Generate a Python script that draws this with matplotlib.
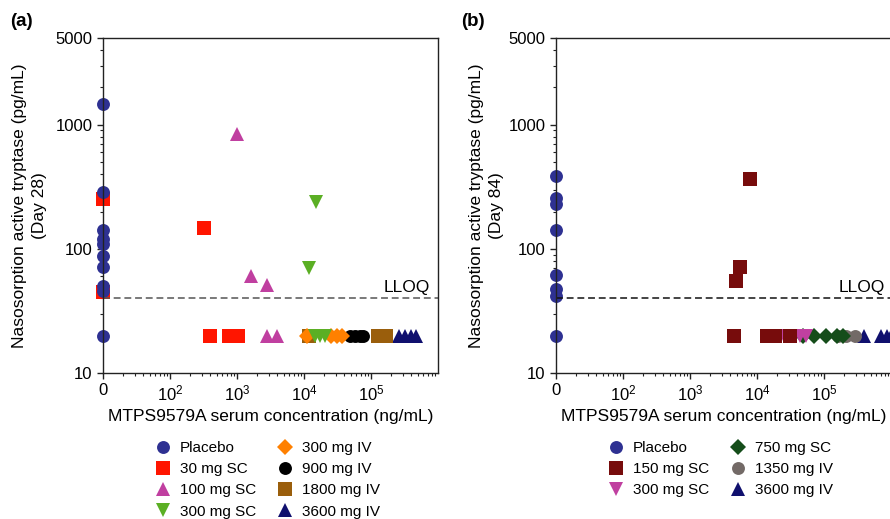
import matplotlib
matplotlib.use("Agg")
import matplotlib.pyplot as plt
import numpy as np
from matplotlib.lines import Line2D
from matplotlib.ticker import LogLocator, NullFormatter, FixedLocator, FixedFormatter

plt.rcParams['font.family'] = ['Liberation Sans', 'DejaVu Sans']
plt.rcParams['mathtext.fontset'] = 'custom'
plt.rcParams['mathtext.rm'] = 'Liberation Sans'
plt.rcParams['mathtext.it'] = 'Liberation Sans:italic'
plt.rcParams['mathtext.bf'] = 'Liberation Sans:bold'

# ---------------- data ----------------
LLOQ = 40
X_TICKS = [10, 1e2, 1e3, 1e4, 1e5]
X_TICK_LABELS = ['0', r'$10^{2}$', r'$10^{3}$', r'$10^{4}$', r'$10^{5}$']
Y_TICKS = [10, 100, 1000, 5000]
Y_TICK_LABELS = ['10', '100', '1000', '5000']

# Panel (a) Day 28
a_placebo_x = [0, 0, 0, 0, 0, 0, 0, 0, 0, 0]
a_placebo_y = [1480, 285, 143, 120, 110, 88, 72, 50, 46, 20]
a_sc30_x = [0, 0, 320, 395, 760, 1035]
a_sc30_y = [250, 45, 147, 20, 20, 20]
a_sc100_x = [990, 1600, 2830, 2770, 3980]
a_sc100_y = [850, 60, 51, 20, 20]
a_sc300_x = [15100, 11800, 14600, 17300, 20600]
a_sc300_y = [237, 70, 20, 20, 20]
a_iv300_x = [11100, 25300, 31100, 36900]
a_iv300_y = [20, 20, 20, 20]
a_iv900_x = [48600, 57700, 68500, 76000]
a_iv900_y = [20, 20, 20, 20]
a_iv1800_x = [11900, 127000, 167000]
a_iv1800_y = [20, 20, 20]
a_iv3600_x = [262000, 321000, 395000, 470000]
a_iv3600_y = [20, 20, 20, 20]

# Panel (b) Day 84
b_placebo_x = [0, 0, 0, 0, 0, 0, 0, 0]
b_placebo_y = [386, 257, 230, 142, 62, 47.5, 42, 20]
b_sc150_x = [7870, 5570, 4860, 4540, 14100, 18600, 31100]
b_sc150_y = [366, 72, 55, 20, 20, 20, 20]
b_sc300_x = [22800, 43900, 53900]
b_sc300_y = [20, 20, 20]
b_sc750_x = [48600, 71000, 107000, 156000, 192000]
b_sc750_y = [20, 20, 20, 20, 20]
b_iv1350_x = [162000, 213000, 290000]
b_iv1350_y = [20, 20, 20]
b_iv3600_x = [395000, 710000, 872000, 1000000]
b_iv3600_y = [20, 20, 20, 20]

# ---------------- styles ----------------
BLUE = '#2E3192'
groups_a = [
    ('Placebo',   a_placebo_x, a_placebo_y, BLUE,      'o', 9.3),
    ('30 mg SC',  a_sc30_x,    a_sc30_y,    '#FF1500', 's', 10),
    ('100 mg SC', a_sc100_x,   a_sc100_y,   '#C03FA0', '^', 9.4),
    ('300 mg SC', a_sc300_x,   a_sc300_y,   '#5BAF24', 'v', 9.4),
    ('300 mg IV', a_iv300_x,   a_iv300_y,   '#FF8000', 'D', 8),
    ('900 mg IV', a_iv900_x,   a_iv900_y,   '#000000', 'o', 9.3),
    ('1800 mg IV', a_iv1800_x, a_iv1800_y,  '#9A5E0C', 's', 10),
    ('3600 mg IV', a_iv3600_x, a_iv3600_y,  '#10106E', '^', 9.4),
]
groups_b = [
    ('Placebo',    b_placebo_x, b_placebo_y, BLUE,      'o', 9.3),
    ('150 mg SC',  b_sc150_x,   b_sc150_y,   '#770C0C', 's', 10),
    ('300 mg SC',  b_sc300_x,   b_sc300_y,   '#C040A0', 'v', 9.4),
    ('750 mg SC',  b_sc750_x,   b_sc750_y,   '#154D1A', 'D', 8),
    ('1350 mg IV', b_iv1350_x,  b_iv1350_y,  '#736A67', 'o', 9.3),
    ('3600 mg IV', b_iv3600_x,  b_iv3600_y,  '#10106E', '^', 9.4),
]

W, H = 890, 519
fig = plt.figure(figsize=(W / 100, H / 100), dpi=100)


def fx(px):
    return px / W


def fy(py):
    return 1 - py / H


X_FLOOR = 10  # zero concentration is shown at the left edge of the log axis


def setup(ax, groups, dash_color, lloq_dx, legend_x):
    for label, x, y, c, m, ms in reversed(groups):
        ax.plot(np.clip(np.asarray(x, float), X_FLOOR, None), y, ls='none',
                marker=m, color=c, ms=ms, mew=0, clip_on=False)
    ax.set_xscale('log')
    ax.set_yscale('log')
    ax.set_xlim(10, 1e6)
    ax.set_ylim(10, 5000)
    ax.xaxis.set_major_locator(FixedLocator(X_TICKS))
    ax.xaxis.set_major_formatter(FixedFormatter(X_TICK_LABELS))
    ax.xaxis.set_minor_locator(LogLocator(base=10, subs=np.arange(2, 10), numticks=20))
    ax.xaxis.set_minor_formatter(NullFormatter())
    ax.yaxis.set_major_locator(FixedLocator(Y_TICKS))
    ax.yaxis.set_major_formatter(FixedFormatter(Y_TICK_LABELS))
    ax.yaxis.set_minor_locator(LogLocator(base=10, subs=np.arange(2, 10), numticks=20))
    ax.yaxis.set_minor_formatter(NullFormatter())
    ax.tick_params(which='major', direction='out', length=4.5, width=1, labelsize=12,
                   color='#222222', pad=3)
    ax.tick_params(which='minor', direction='out', length=2.5, width=0.8, color='#222222')
    for s in ax.spines.values():
        s.set_linewidth(1.0)
        s.set_color('#222222')
    ax.axhline(LLOQ, color=dash_color, lw=1.1, ls=(0, (4.5, 2.5)))
    ax.annotate('LLOQ', xy=(1, LLOQ), xycoords=('axes fraction', 'data'),
                xytext=(lloq_dx, 4.3), textcoords='offset points',
                ha='right', va='baseline', fontsize=12.5)
    handles = [Line2D([], [], ls='none', marker=m, color=c, ms=ms, mew=0)
               for (_, _, _, c, m, ms) in groups]
    labels = [g[0] for g in groups]
    fig.legend(handles, labels, ncol=2, loc='upper left',
               bbox_to_anchor=(fx(legend_x), fy(441)), frameon=False,
               fontsize=11, handlelength=1.0, handletextpad=0.6,
               columnspacing=1.4, labelspacing=0.47, borderpad=0,
               borderaxespad=0)


ax1 = fig.add_axes([fx(103), fy(373), fx(335), 335 / H])
ax2 = fig.add_axes([fx(556), fy(373), fx(335), 335 / H])

setup(ax1, groups_a, '#555555', -5.5, 155.4)
setup(ax2, groups_b, '#111111', -4.5, 608.4)

XLABEL = 'MTPS9579A serum concentration (ng/mL)'
fig.text(fx(270.5), fy(416), XLABEL, ha='center', va='center', fontsize=12.5)
fig.text(fx(723.5), fy(416), XLABEL, ha='center', va='center', fontsize=12.5)

fig.text(fx(29.5), fy(206), 'Nasosorption active tryptase (pg/mL)\n(Day 28)',
         rotation=90, ha='center', va='center', multialignment='center',
         fontsize=12.5, linespacing=1.48)
fig.text(fx(486.5), fy(206), 'Nasosorption active tryptase (pg/mL)\n(Day 84)',
         rotation=90, ha='center', va='center', multialignment='center',
         fontsize=12.5, linespacing=1.48)

fig.text(fx(10), fy(21), '(a)', fontsize=13.5, fontweight='bold', ha='left', va='center')
fig.text(fx(461), fy(21), '(b)', fontsize=13.5, fontweight='bold', ha='left', va='center')

fig.savefig('out.png', dpi=100)
